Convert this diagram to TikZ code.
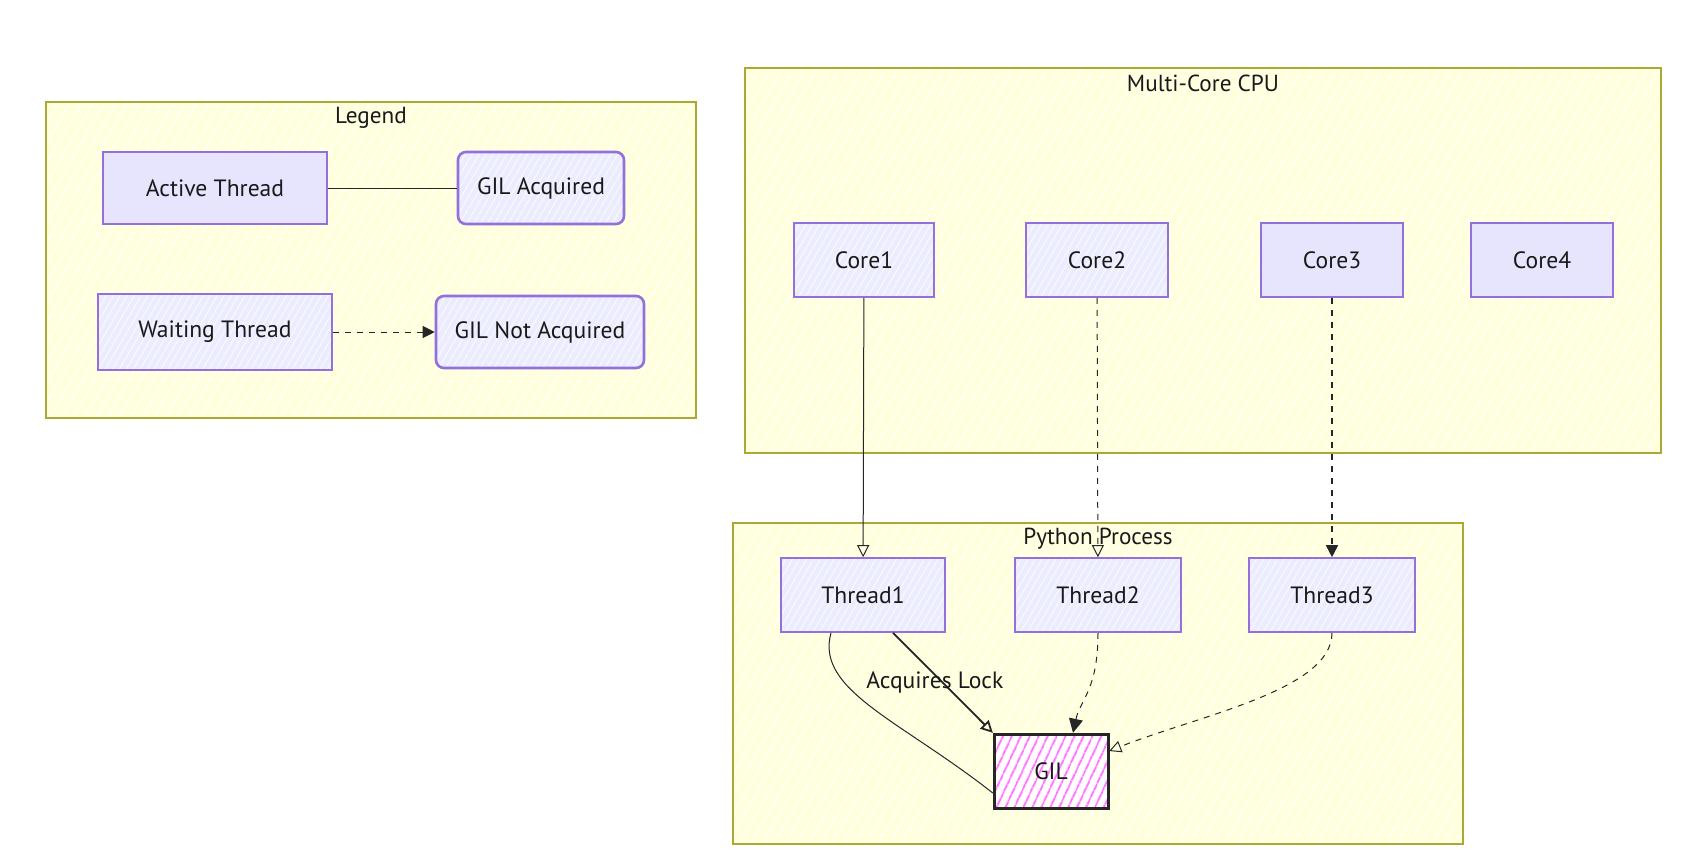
\documentclass[tikz,border=0pt]{standalone}
\usepackage{fontspec}
\setmainfont{PT Sans}
\usepackage{tikz}
\usetikzlibrary{arrows.meta,patterns.meta}

\definecolor{clusterfill}{HTML}{FFFFDE}
\definecolor{clusterline}{HTML}{AAAA33}
\definecolor{nodefill}{HTML}{ECECFF}
\definecolor{nodeline}{HTML}{9370DB}
\definecolor{gilhatch}{HTML}{FF77FF}

\tikzset{
  cluster/.style={draw=clusterline, line width=0.9pt, preaction={fill=clusterfill},
    pattern={Lines[angle=60,distance=5pt,line width=0.6pt]}, pattern color=white!85!clusterfill},
  hatchbox/.style={draw=nodeline, line width=0.8pt, preaction={fill=nodefill},
    pattern={Lines[angle=60,distance=3pt,line width=0.5pt]}, pattern color=white!70!nodefill,
    minimum height=36pt, inner sep=2pt},
  solidbox/.style={draw=nodeline, line width=0.9pt, fill=nodefill!94!nodeline,
    minimum height=36pt, inner sep=2pt},
  roundbox/.style={hatchbox, line width=1.3pt, rounded corners=4pt},
  gilbox/.style={draw=black!85, line width=1.5pt, preaction={fill=white},
    pattern={Lines[angle=65,distance=4pt,line width=1.2pt]}, pattern color=gilhatch,
    minimum width=57pt, minimum height=37pt},
  title/.style={font=\fontsize{11.6}{13}\selectfont},
  link/.style={draw=black!85, line width=0.5pt},
}

\begin{document}
\begin{tikzpicture}[x=0.5pt, y=-0.5pt, every node/.style={font=\fontsize{11.8}{13}\selectfont, text=black!90}]
  \useasboundingbox (0,0) rectangle (1708,864);
  % draw the clusters
  \draw[cluster] (46,102) rectangle (696,418);
  \node[title] (legendtitle) at (371,118) {Legend};
  \draw[cluster] (745,68) rectangle (1661,453);
  \node[title] (cputitle) at (1203,83) {Multi-Core CPU};
  \draw[cluster] (733,523) rectangle (1463,844);
  \node[title] (pytitle) at (1098,539) {Python Process};

  % legend nodes
  \node[solidbox, minimum width=112pt] (active) at (215,188) {Active Thread};
  \node[roundbox, minimum width=83pt] (acquired) at (541,188) {GIL Acquired};
  \node[hatchbox, minimum width=117pt, minimum height=38pt] (waiting) at (215,332) {Waiting Thread};
  \node[roundbox, minimum width=104pt] (notacquired) at (540,332) {GIL Not Acquired};

  % the cores
  \node[hatchbox, minimum width=70pt, minimum height=37pt] (core1) at (864,260) {Core1};
  \node[hatchbox, minimum width=71pt, minimum height=37pt] (core2) at (1097,260) {Core2};
  \node[solidbox, minimum width=71pt, minimum height=37pt] (core3) at (1332,260) {Core3};
  \node[solidbox, minimum width=71pt, minimum height=37pt] (core4) at (1542,260) {Core4};

  % the threads and the lock
  \node[hatchbox, minimum width=82pt, minimum height=37pt] (thread1) at (863,595) {Thread1};
  \node[hatchbox, minimum width=83pt, minimum height=37pt] (thread2) at (1098,595) {Thread2};
  \node[hatchbox, minimum width=83pt, minimum height=37pt] (thread3) at (1332,595) {Thread3};
  \node[gilbox] (gil) at (1051,771) {GIL};

  % draw the legend links
  \draw[link] (active) -- (acquired);
  \draw[link, dashed, -{Triangle[length=6pt,width=6pt]}] (waiting) -- (notacquired);

  % cores to threads
  \draw[link, -{Triangle[open,length=6pt,width=6pt]}] (core1) -- (thread1);
  \draw[link, dashed, -{Triangle[open,length=6pt,width=6pt]}] (core2) -- (thread2);
  \draw[link, dashed, line width=0.8pt, -{Triangle[length=6pt,width=6pt]}] (core3) -- (thread3);

  % threads to the lock
  \draw[link] ([xshift=-16pt]thread1.south) .. controls (815,690) and (900,720) .. ([yshift=-11pt]gil.west);
  \draw[link, line width=0.9pt, -{Triangle[open,length=6pt,width=6pt]}]
    ([xshift=15pt]thread1.south) -- node[pos=0.5, xshift=-4pt] (locklabel) {Acquires Lock} (gil.north west);
  \draw[link, dashed, -{Triangle[length=7pt,width=7pt]}]
    (thread2.south) .. controls (1098,690) and (1080,700) .. ([xshift=11pt]gil.north);
  \draw[link, dashed, -{Triangle[open,length=6pt,width=6pt]}]
    (thread3.south) .. controls (1332,690) and (1200,715) .. ([yshift=10pt]gil.east);
\end{tikzpicture}
\end{document}
